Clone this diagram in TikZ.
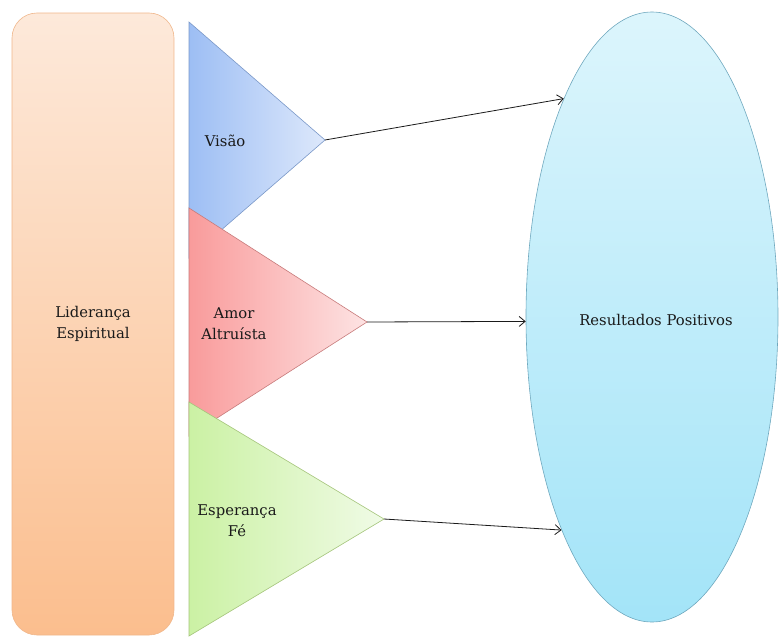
\documentclass[tikz,border=0pt]{standalone}
\usepackage{fontspec}
\setmainfont{DejaVu Serif}
\usetikzlibrary{shapes.geometric,arrows.meta}
\definecolor{peachTop}{HTML}{FDE9DA}
\definecolor{peachBot}{HTML}{FBBE8E}
\definecolor{peachLine}{HTML}{F0B68A}
\definecolor{blueL}{HTML}{9DBEF4}
\definecolor{blueR}{HTML}{DDE8FB}
\definecolor{blueLine}{HTML}{7A98C8}
\definecolor{redL}{HTML}{F99B9B}
\definecolor{redR}{HTML}{FDE3E3}
\definecolor{redLine}{HTML}{C77B7B}
\definecolor{greenL}{HTML}{CBF1A4}
\definecolor{greenR}{HTML}{F0FBE6}
\definecolor{greenLine}{HTML}{A4C47A}
\definecolor{cyanTop}{HTML}{DCF5FC}
\definecolor{cyanBot}{HTML}{A3E4F8}
\definecolor{cyanLine}{HTML}{6FA8BE}
\definecolor{ink}{HTML}{1A1A1A}
\begin{document}
\begin{tikzpicture}[x=1pt,y=-1pt,
  lbl/.style={font=\fontsize{14.8}{21}\selectfont, align=center, text=ink},
  conn/.style={draw=ink, line width=0.8pt, -{Straight Barb[length=6pt,width=10pt]}},
  wedge/.style={line width=0.6pt}]
\useasboundingbox (0,0) rectangle (779,637);

% left pillar
\node[lbl, draw=peachLine, line width=0.6pt, rounded corners=25pt,
      top color=peachTop, bottom color=peachBot,
      minimum width=162pt, minimum height=622pt, inner sep=0pt]
      (lead) at (93,324) {Liderança\\Espiritual};

% the three wedges, each one overlapping the previous
\path[wedge, draw=blueLine, left color=blueL, right color=blueR]
  (189,22) -- (325,140) -- (189,258) -- cycle;
\coordinate (visTip) at (325,140);
\path[wedge, draw=redLine, left color=redL, right color=redR]
  (189,208) -- (367,322) -- (189,436) -- cycle;
\coordinate (amorTip) at (367,322);
\path[wedge, draw=greenLine, left color=greenL, right color=greenR]
  (189,402) -- (384,519) -- (189,636) -- cycle;
\coordinate (espTip) at (384,519);

\node[lbl] (vis) at (225,141) {Visão};
\node[lbl] (amor) at (234,324) {Amor\\Altruísta};
\node[lbl] (esp) at (237,521) {Esperança\\Fé};

% outcome ellipse
\node[ellipse, draw=cyanLine, line width=0.6pt,
      top color=cyanTop, bottom color=cyanBot,
      minimum width=252pt, minimum height=610pt, inner sep=0pt]
      (res) at (652,317) {};
\node[lbl] (resTxt) at (656,320) {Resultados Positivos};

% connectors
\draw[conn] (visTip) -- (res.112);
\draw[conn] (amorTip) -- (res.182);
\draw[conn] (espTip) -- (res.247);
\end{tikzpicture}
\end{document}
